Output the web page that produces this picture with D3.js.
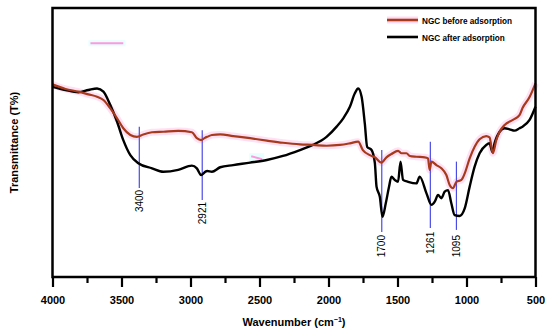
<!DOCTYPE html>
<html>
<head>
<meta charset="utf-8">
<script src="https://cdn.jsdelivr.net/npm/d3@7"></script>
<style>
  html, body { margin: 0; padding: 0; background: #fff; }
  svg { display: block; font-family: "Liberation Sans", Arial, sans-serif; }
</style>
</head>
<body>
<svg id="chart" width="550" height="335"></svg>
<script>
// ---- data (wavenumber in cm^-1, transmittance in arbitrary %) ----
const beforeWave = [4000,3906,3812,3740,3677,3631,3581,3532,3487,3436,3388,3342,3279,3197,3089,2990,2954,2923,2894,2879,2845,2785,2691,2568,2447,2330,2207,2113,2014,1917,1845,1785,1751,1700,1664,1616,1580,1544,1496,1471,1435,1411,1363,1303,1279,1267,1254,1218,1182,1146,1122,1098,1073,1037,1013,977,941,905,857,833,809,784,760,724,664,616,594,543,500];
const beforeT    = [71.6,69.9,68.9,67.9,67.0,65.8,62.7,59.0,55.3,52.8,52.1,53.0,53.8,54.0,54.3,53.8,51.6,50.9,51.8,52.1,52.8,53.0,52.4,51.6,50.7,49.9,49.3,49.1,48.8,49.1,49.7,50.3,47.2,45.3,44.5,42.5,44.5,45.7,46.9,46.0,46.0,45.0,44.7,44.5,44.1,39.8,42.9,41.6,40.4,37.9,34.2,33.0,35.4,36.1,38.5,44.1,48.4,51.2,52.4,51.9,46.0,50.9,54.0,56.5,58.4,60.2,62.8,66.9,72.0];

const afterWave = [4000,3906,3812,3740,3677,3631,3581,3532,3487,3436,3378,3279,3197,3089,2990,2954,2923,2894,2879,2845,2785,2691,2568,2447,2330,2207,2113,2014,1941,1893,1845,1809,1785,1760,1737,1720,1688,1664,1652,1628,1609,1585,1561,1544,1520,1496,1478,1460,1423,1363,1339,1290,1254,1230,1206,1182,1158,1134,1110,1086,1050,1013,977,941,905,857,833,813,797,760,724,688,652,616,594,543,500];
const afterT    = [70.7,69.5,68.7,69.5,70.1,68.9,63.9,57.7,50.9,45.3,42.3,40.4,39.1,39.8,41.4,40.4,37.9,39.1,39.4,39.1,40.8,41.6,42.5,43.5,45.0,47.2,49.1,52.1,55.9,59.0,63.3,68.3,70.1,67.0,57.1,48.4,47.2,42.3,33.6,29.8,22.4,27.4,33.6,37.3,36.1,35.4,42.9,36.1,35.4,34.8,37.3,31.1,26.8,28.0,30.5,29.3,31.7,32.3,27.4,23.0,22.7,25.5,33.6,41.0,46.0,49.1,49.7,46.5,49.7,54.0,55.3,54.9,54.4,55.3,55.9,58.4,63.3];

// peak annotations: label, wavenumber position of the marker, marker top/bottom (T units)
const peakLabels = ["3400","2921","1700","1261","1095"];
const peakPos    = [3371, 2915, 1614, 1262, 1073];
const peakTop    = [55.9, 54.6, 47.2, 50.3, 42.9];
const peakBottom = [33.1, 28.6, 16.7, 18.2, 17.5];
const peakText   = [32.4, 27.9, 15.6, 16.8, 15.6];

const majorTicks = [4000,3500,3000,2500,2000,1500,1000,500];
const minorTicks = [3750,3250,2750,2250,1750,1250,750];
const seriesNames = ["NGC before adsorption","NGC after adsorption"];
const xTitle = "Wavenumber (cm";
const yTitle = "Transmittance (T%)";

// ---- layout ----
const svg = d3.select("#chart");
const L = 52.5, R = 535.5, T = 8, B = 277;
const x = d3.scaleLinear().domain([4000, 500]).range([L, R]);
const y = d3.scaleLinear().domain([0, 100]).range([B, T]);

const redCol = "#a83a1c", haloCol = "#ffc2ea", blueCol = "#4b4be6";

// small image artifacts (pink dashes on cyan)
const artifacts = [
  {w0: 3725, w1: 3487, t0: 86.9, t1: 86.9},
  {w0: 2560, w1: 2481, t0: 44.9, t1: 43.8}
];
artifacts.forEach(a => {
  svg.append("rect").attr("x", x(a.w0) - 2).attr("y", y(Math.max(a.t0, a.t1)) - 3)
    .attr("width", x(a.w1) - x(a.w0) + 4).attr("height", Math.abs(y(a.t0) - y(a.t1)) + 6)
    .attr("fill", "#e6ffff");
  svg.append("line").attr("x1", x(a.w0)).attr("x2", x(a.w1)).attr("y1", y(a.t0)).attr("y2", y(a.t1))
    .attr("stroke", "#ff99dd").attr("stroke-width", 2);
});

const line = d3.line().curve(d3.curveMonotoneX);

const beforePts = beforeWave.map((w, i) => [x(w), y(beforeT[i])]);
const afterPts = afterWave.map((w, i) => [x(w), y(afterT[i])]);

// halo for red curve
svg.append("path").attr("d", line(beforePts)).attr("fill", "none")
  .attr("stroke", haloCol).attr("stroke-width", 7).attr("stroke-opacity", 0.5)
  .attr("stroke-linejoin", "round");

// peak marker lines
peakLabels.forEach((lab, i) => {
  svg.append("line").attr("x1", x(peakPos[i])).attr("x2", x(peakPos[i]))
    .attr("y1", y(peakTop[i])).attr("y2", y(peakBottom[i]))
    .attr("stroke", blueCol).attr("stroke-width", 1.2);
  const px = x(peakPos[i]), py = y(peakText[i]);
  svg.append("text").attr("transform", `translate(${px},${py}) rotate(-90)`)
    .attr("text-anchor", "end").attr("dy", "0.35em")
    .attr("font-size", 10).attr("fill", "#000").text(lab);
});

// black curve (after)
svg.append("path").attr("d", line(afterPts)).attr("fill", "none")
  .attr("stroke", "#000").attr("stroke-width", 2.4).attr("stroke-linejoin", "round");
// red curve (before)
svg.append("path").attr("d", line(beforePts)).attr("fill", "none")
  .attr("stroke", redCol).attr("stroke-width", 2.2).attr("stroke-linejoin", "round");

// frame
svg.append("rect").attr("x", L).attr("y", T).attr("width", R - L).attr("height", B - T)
  .attr("fill", "none").attr("stroke", "#000").attr("stroke-width", 2.5);

// axes
const gx = svg.append("g").attr("transform", `translate(0,${B})`)
  .call(d3.axisBottom(x).tickValues(majorTicks).tickSize(10).tickPadding(9).tickFormat(d3.format("d")));
gx.select(".domain").remove();
gx.selectAll(".tick line").attr("stroke", "#000").attr("stroke-width", 2.2);
gx.selectAll(".tick text").attr("font-size", 11).attr("font-weight", "bold")
  .attr("font-family", "Liberation Sans, Arial, sans-serif").attr("fill", "#000");

const gm = svg.append("g").attr("transform", `translate(0,${B})`)
  .call(d3.axisBottom(x).tickValues(minorTicks).tickSize(6).tickFormat(""));
gm.select(".domain").remove();
gm.selectAll(".tick line").attr("stroke", "#000").attr("stroke-width", 2.2);

// axis titles
const xt = svg.append("text").attr("x", (L + R) / 2).attr("y", 326)
  .attr("text-anchor", "middle").attr("font-size", 11).attr("font-weight", "bold");
xt.append("tspan").text(xTitle);
xt.append("tspan").attr("font-size", 7).attr("dy", -4).text("−1");
xt.append("tspan").attr("dy", 4).text(")");

svg.append("text").attr("transform", `translate(18,${(T + B) / 2}) rotate(-90)`)
  .attr("text-anchor", "middle").attr("font-size", 11).attr("font-weight", "bold")
  .text(yTitle);

// legend
const legY = [20, 37];
const legCols = [redCol, "#000"];
seriesNames.forEach((name, i) => {
  if (i === 0) {
    svg.append("line").attr("x1", 387).attr("x2", 418).attr("y1", legY[i]).attr("y2", legY[i])
      .attr("stroke", haloCol).attr("stroke-width", 7).attr("stroke-opacity", 0.6);
  }
  svg.append("line").attr("x1", 387).attr("x2", 418).attr("y1", legY[i]).attr("y2", legY[i])
    .attr("stroke", legCols[i]).attr("stroke-width", 2.6);
  svg.append("text").attr("x", 422).attr("y", legY[i] + 1).attr("dy", "0.35em")
    .attr("font-size", 8.2).attr("font-weight", "bold").text(name);
});
</script>
</body>
</html>
